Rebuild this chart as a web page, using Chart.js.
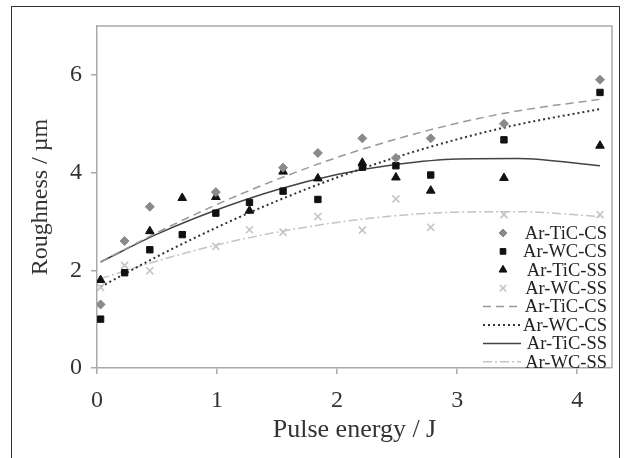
<!DOCTYPE html>
<html>
<head>
<meta charset="utf-8">
<script src="https://cdn.jsdelivr.net/npm/chart.js@4/dist/chart.umd.min.js"></script>
<style>
  body { margin: 0; background: #fff; }
  #wrap { position: relative; width: 624px; height: 458px; }
  #frame { position: absolute; left: 11px; top: 6px; width: 607px; height: 470px;
           border: 1.5px solid #333; pointer-events: none; }
</style>
</head>
<body>
<div id="wrap">
  <canvas id="myChart" width="624" height="458"></canvas>
  <div id="frame"></div>
</div>
<script>
// measured points
var energyTiCCS = [0.03, 0.23, 0.44, 0.99, 1.55, 1.84, 2.21, 2.49, 2.78, 3.39, 4.19];
var roughTiCCS  = [1.3, 2.6, 3.3, 3.6, 4.1, 4.4, 4.7, 4.3, 4.7, 5.0, 5.9];

var energyWCCS = [0.03, 0.23, 0.44, 0.71, 0.99, 1.27, 1.55, 1.84, 2.21, 2.49, 2.78, 3.39, 4.19];
var roughWCCS  = [1.0, 1.95, 2.42, 2.73, 3.17, 3.39, 3.62, 3.45, 4.11, 4.14, 3.95, 4.67, 5.64];

var energyTiCSS = [0.03, 0.44, 0.71, 0.99, 1.27, 1.55, 1.84, 2.21, 2.49, 2.78, 3.39, 4.19];
var roughTiCSS  = [1.8, 2.8, 3.48, 3.5, 3.22, 4.02, 3.88, 4.2, 3.9, 3.63, 3.89, 4.55];

var energyWCSS = [0.03, 0.23, 0.44, 0.99, 1.27, 1.55, 1.84, 2.21, 2.49, 2.78, 3.39, 4.19];
var roughWCSS  = [1.65, 2.1, 1.99, 2.49, 2.83, 2.78, 3.1, 2.82, 3.46, 2.88, 3.14, 3.14];

// trend lines
var fitEnergy = [0.03, 0.5, 1, 1.5, 2, 2.5, 3, 3.5, 4.19];
var fitTiCCS  = [2.17, 2.77, 3.35, 3.86, 4.31, 4.69, 5.01, 5.26, 5.50];
var fitWCCS   = [1.66, 2.28, 2.88, 3.42, 3.90, 4.32, 4.68, 4.98, 5.30];
var fitTiCSS  = [2.17, 2.74, 3.24, 3.65, 3.96, 4.17, 4.28, 4.29, 4.14];
var fitWCSS   = [1.83, 2.19, 2.52, 2.78, 2.98, 3.12, 3.19, 3.20, 3.10];

var xTicks = [0, 1, 2, 3, 4];
var yTicks = [0, 2, 4, 6];

function pts(xs, ys) {
  return xs.map(function (x, i) { return { x: x, y: ys[i] }; });
}

var serif = "'Liberation Serif', 'Times New Roman', serif";

function marker(label, xs, ys, style, color, r) {
  return {
    label: label, data: pts(xs, ys), showLine: false,
    pointStyle: style, pointRadius: r, pointHoverRadius: r,
    backgroundColor: color, borderColor: color, pointBorderWidth: style === 'crossRot' ? 1.6 : 1
  };
}
function trend(label, ys, color, dash, w) {
  return {
    label: label, data: pts(fitEnergy, ys), showLine: true, pointRadius: 0,
    borderColor: color, borderWidth: w, borderDash: dash, tension: 0.4,
    cubicInterpolationMode: 'monotone', fill: false
  };
}

// legend drawn inside the plot, bottom right
var insideLegend = {
  id: 'insideLegend',
  afterDraw: function (chart) {
    var ctx = chart.ctx;
    ctx.save();
    ctx.font = "18.5px " + serif;
    ctx.textAlign = 'right';
    ctx.textBaseline = 'middle';
    chart.data.datasets.forEach(function (ds, i) {
      var y = 233 + i * 18.4;
      if (ds.showLine) {
        ctx.strokeStyle = ds.borderColor;
        ctx.lineWidth = ds.borderWidth;
        ctx.setLineDash(ds.borderDash || []);
        ctx.beginPath();
        ctx.moveTo(483, y);
        ctx.lineTo(521, y);
        ctx.stroke();
        ctx.setLineDash([]);
      } else {
        ctx.fillStyle = ds.backgroundColor;
        ctx.strokeStyle = ds.borderColor;
        ctx.lineWidth = ds.pointBorderWidth;
        Chart.helpers.drawPoint(ctx, { pointStyle: ds.pointStyle, radius: ds.pointRadius - 0.5, rotation: 0, borderWidth: ds.pointBorderWidth }, 503, y);
      }
      ctx.fillStyle = '#222';
      ctx.fillText(ds.label, 607, y + 1);
    });
    ctx.restore();
  }
};

var plotBox = {
  id: 'plotBox',
  beforeDatasetsDraw: function (chart) {
    var a = chart.chartArea, ctx = chart.ctx;
    ctx.save();
    ctx.strokeStyle = '#aaa';
    ctx.lineWidth = 1.5;
    ctx.beginPath();
    ctx.moveTo(a.left, a.top);
    ctx.lineTo(a.right, a.top);
    ctx.lineTo(a.right, a.bottom);
    ctx.stroke();
    ctx.restore();
  }
};

var ctx = document.getElementById("myChart");
var myChart = new Chart(ctx, {
  type: 'scatter',
  data: {
    datasets: [
      marker('Ar-TiC-CS', energyTiCCS, roughTiCCS, 'rectRot', '#8a8a8a', 4.5),
      marker('Ar-WC-CS', energyWCCS, roughWCCS, 'rect', '#111', 4.5),
      marker('Ar-TiC-SS', energyTiCSS, roughTiCSS, 'triangle', '#111', 5),
      marker('Ar-WC-SS', energyWCSS, roughWCSS, 'crossRot', '#c4c4c4', 5),
      trend('Ar-TiC-CS', fitTiCCS, '#999', [8, 5], 1.5),
      trend('Ar-WC-CS', fitWCCS, '#333', [2, 3], 2),
      trend('Ar-TiC-SS', fitTiCSS, '#444', [], 1.5),
      trend('Ar-WC-SS', fitWCSS, '#c4c4c4', [9, 3, 2, 3], 1.5)
    ]
  },
  plugins: [plotBox, insideLegend],
  options: {
    responsive: false,
    animation: false,
    layout: { padding: { left: 0, right: 12, top: 26, bottom: 0 } },
    plugins: {
      legend: { display: false },
      tooltip: { enabled: false }
    },
    scales: {
      x: {
        type: 'linear', min: 0, max: 4.29,
        afterFit: function (s) { s.height = 90; },
        afterBuildTicks: function (s) { s.ticks = xTicks.map(function (v) { return { value: v }; }); },
        ticks: { font: { family: serif, size: 24 }, color: '#333', padding: 12 },
        grid: { drawOnChartArea: false, color: '#aaa', tickLength: 6, lineWidth: 1.5 },
        border: { color: '#aaa', width: 1.5 },
        title: { display: true, text: 'Pulse energy / J', font: { family: serif, size: 26 }, color: '#333',
                 padding: { top: 0, bottom: 12 } }
      },
      y: {
        type: 'linear', min: 0, max: 7,
        afterFit: function (s) { s.width = 97; },
        afterBuildTicks: function (s) { s.ticks = yTicks.map(function (v) { return { value: v }; }); },
        ticks: { font: { family: serif, size: 24 }, color: '#333', padding: 9 },
        grid: { drawOnChartArea: false, color: '#aaa', tickLength: 6, lineWidth: 1.5 },
        border: { color: '#aaa', width: 1.5 },
        title: { display: true, text: 'Roughness / µm', font: { family: serif, size: 24 }, color: '#333',
                 padding: { top: 26, bottom: 0 } }
      }
    }
  }
});
</script>
</body>
</html>
